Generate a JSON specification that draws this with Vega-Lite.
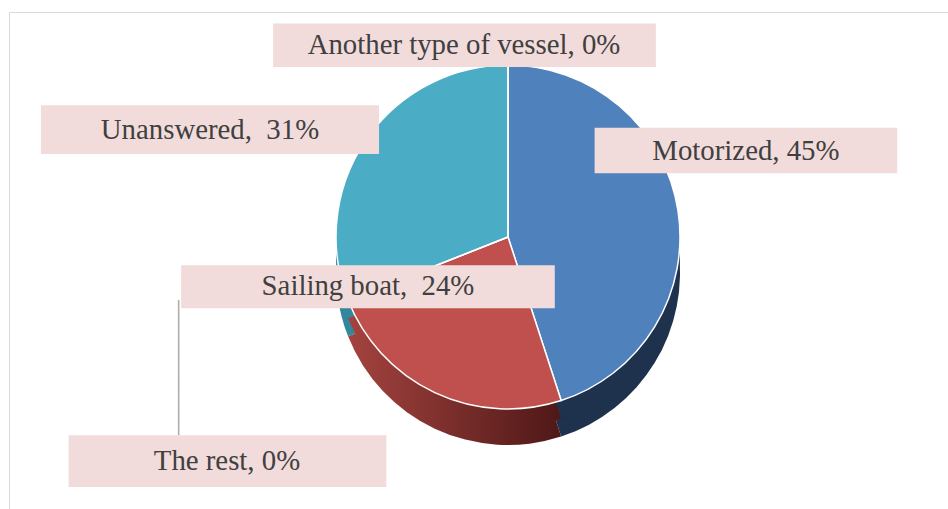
{
  "$schema": "https://vega.github.io/schema/vega-lite/v6.json",
  "width": 939,
  "height": 497,
  "autosize": "none",
  "padding": {"left": 9, "top": 12, "right": 0, "bottom": 0},
  "background": "white",
  "view": {"stroke": "#d9d9d9", "strokeWidth": 1},
  "config": {"view": {"stroke": "#d9d9d9", "strokeWidth": 1}},
  "data": {"values": [
    {"type": "Motorized", "pct": 45, "label": "Motorized, 45%"},
    {"type": "Sailing boat", "pct": 24, "label": "Sailing boat,\u00a0 24%"},
    {"type": "Unanswered", "pct": 31, "label": "Unanswered,\u00a0 31%"},
    {"type": "The rest", "pct": 0, "label": "The rest, 0%"},
    {"type": "Another type of vessel", "pct": 0, "label": "Another type of vessel, 0%"}
  ]},
  "transform": [
    {"stack": "pct", "groupby": [], "sort": [{"field": "type", "order": "ascending"}], "as": ["p0", "p1"]},
    {"calculate": "(datum.p0 + datum.p1) / 2", "as": "mid"}
  ],
  "layer": [
    {
      "mark": {"type": "rule", "opacity": 0},
      "encoding": {"x": {"datum": 0, "type": "quantitative", "axis": null}}
    },
    {
      "mark": {"type": "arc", "outerRadius": 172, "xOffset": 29.5, "yOffset": 12.5},
      "encoding": {
        "theta": {"field": "p0", "type": "quantitative", "stack": null, "scale": {"domain": [0, 100], "range": [0, 6.2831853]}},
        "theta2": {"field": "p1"},
        "fill": {
          "condition": {"test": "datum.type === 'Sailing boat'", "value": {"gradient": "linear", "x1": 0, "x2": 1, "y1": 0, "y2": 0, "stops": [{"offset": 0, "color": "#a4433f"}, {"offset": 1, "color": "#4e1817"}]}},
          "field": "type", "type": "nominal",
          "scale": {"domain": ["Another type of vessel", "Motorized", "Sailing boat", "The rest", "Unanswered"], "range": ["#2f4f6f", "#1f324d", "#7a2c2a", "#7a2c2a", "#34869c"]},
          "legend": null
        }
      }
    },
    {
      "mark": {"type": "arc", "outerRadius": 172, "xOffset": 29.5, "yOffset": -5.5},
      "encoding": {
        "theta": {"field": "p0", "type": "quantitative", "stack": null},
        "theta2": {"field": "p1"},
        "fill": {
          "condition": {"test": "datum.type === 'Sailing boat'", "value": {"gradient": "linear", "x1": 0, "x2": 1, "y1": 0, "y2": 0, "stops": [{"offset": 0, "color": "#a4433f"}, {"offset": 1, "color": "#4e1817"}]}},
          "field": "type", "type": "nominal", "legend": null
        }
      }
    },
    {
      "mark": {"type": "arc", "outerRadius": 172, "xOffset": 29.5, "yOffset": -23.5, "stroke": "white", "strokeWidth": 1.5},
      "encoding": {
        "theta": {"field": "p0", "type": "quantitative", "stack": null},
        "theta2": {"field": "p1"},
        "color": {
          "field": "type", "type": "nominal",
          "scale": {"domain": ["Another type of vessel", "Motorized", "Sailing boat", "The rest", "Unanswered"], "range": ["#4f81bd", "#4f81bd", "#c0504d", "#c0504d", "#4bacc6"]},
          "legend": null
        }
      }
    },
    {
      "transform": [{"filter": "datum.type === 'The rest'"}],
      "mark": {"type": "text", "radius": 172, "angle": 90, "align": "left", "baseline": "middle", "dx": -23.8, "dy": 140.6, "font": "DejaVu Sans Mono", "fontSize": 14, "color": "#9a9a9a", "text": "────────────────"},
      "encoding": {"theta": {"field": "mid", "type": "quantitative"}}
    },
    {
      "transform": [{"filter": "datum.type === 'Motorized'"}],
      "mark": {"type": "text", "radius": 250, "dx": 20.5, "dy": -8.7, "align": "center", "baseline": "alphabetic", "font": "Liberation Serif", "fontSize": 267, "fill": "#f2dcdb", "stroke": "#f2dcdb", "strokeWidth": 32, "strokeJoin": "miter", "text": "—"},
      "encoding": {"theta": {"field": "mid", "type": "quantitative"}}
    },
    {
      "transform": [{"filter": "datum.type === 'Sailing boat'"}],
      "mark": {"type": "text", "radius": 60, "dx": -85, "dy": 51.8, "align": "center", "baseline": "alphabetic", "font": "Liberation Serif", "fontSize": 343, "fill": "#f2dcdb", "stroke": "#f2dcdb", "strokeWidth": 26, "strokeJoin": "miter", "text": "—"},
      "encoding": {"theta": {"field": "mid", "type": "quantitative"}}
    },
    {
      "transform": [{"filter": "datum.type === 'Unanswered'"}],
      "mark": {"type": "text", "radius": 300, "dx": -20.4, "dy": 107.6, "align": "center", "baseline": "alphabetic", "font": "Liberation Serif", "fontSize": 300, "fill": "#f2dcdb", "stroke": "#f2dcdb", "strokeWidth": 34, "strokeJoin": "miter", "text": "—"},
      "encoding": {"theta": {"field": "mid", "type": "quantitative"}}
    },
    {
      "transform": [{"filter": "datum.type === 'Another type of vessel'"}],
      "mark": {"type": "text", "radius": 193, "dx": -14, "dy": 59.8, "align": "center", "baseline": "alphabetic", "font": "Liberation Serif", "fontSize": 352, "fill": "#f2dcdb", "stroke": "#f2dcdb", "strokeWidth": 26, "strokeJoin": "miter", "text": "—"},
      "encoding": {"theta": {"field": "mid", "type": "quantitative"}}
    },
    {
      "transform": [{"filter": "datum.type === 'The rest'"}],
      "mark": {"type": "text", "radius": 300, "dx": 27.9, "dy": 154.5, "align": "center", "baseline": "alphabetic", "font": "Liberation Serif", "fontSize": 276, "fill": "#f2dcdb", "stroke": "#f2dcdb", "strokeWidth": 38, "strokeJoin": "miter", "text": "—"},
      "encoding": {"theta": {"field": "mid", "type": "quantitative"}}
    },
    {
      "transform": [{"filter": "datum.type === 'Motorized'"}],
      "mark": {"type": "text", "radius": 250, "dx": 20.5, "dy": -70.5, "align": "center", "baseline": "middle", "font": "Liberation Serif", "fontSize": 28.8, "color": "#404040"},
      "encoding": {"theta": {"field": "mid", "type": "quantitative"}, "text": {"field": "label"}}
    },
    {
      "transform": [{"filter": "datum.type === 'Sailing boat'"}],
      "mark": {"type": "text", "radius": 60, "dx": -85, "dy": -28.3, "align": "center", "baseline": "middle", "font": "Liberation Serif", "fontSize": 28.8, "color": "#404040"},
      "encoding": {"theta": {"field": "mid", "type": "quantitative"}, "text": {"field": "label"}}
    },
    {
      "transform": [{"filter": "datum.type === 'Unanswered'"}],
      "mark": {"type": "text", "radius": 300, "dx": -20.4, "dy": 38.6, "align": "center", "baseline": "middle", "font": "Liberation Serif", "fontSize": 28.8, "color": "#404040"},
      "encoding": {"theta": {"field": "mid", "type": "quantitative"}, "text": {"field": "label"}}
    },
    {
      "transform": [{"filter": "datum.type === 'Another type of vessel'"}],
      "mark": {"type": "text", "radius": 193, "dx": -14.5, "dy": -23, "align": "center", "baseline": "middle", "font": "Liberation Serif", "fontSize": 28.8, "color": "#404040"},
      "encoding": {"theta": {"field": "mid", "type": "quantitative"}, "text": {"field": "label"}}
    },
    {
      "transform": [{"filter": "datum.type === 'The rest'"}],
      "mark": {"type": "text", "radius": 300, "dx": 27.4, "dy": 89.6, "align": "center", "baseline": "middle", "font": "Liberation Serif", "fontSize": 28.8, "color": "#404040"},
      "encoding": {"theta": {"field": "mid", "type": "quantitative"}, "text": {"field": "label"}}
    }
  ]
}
